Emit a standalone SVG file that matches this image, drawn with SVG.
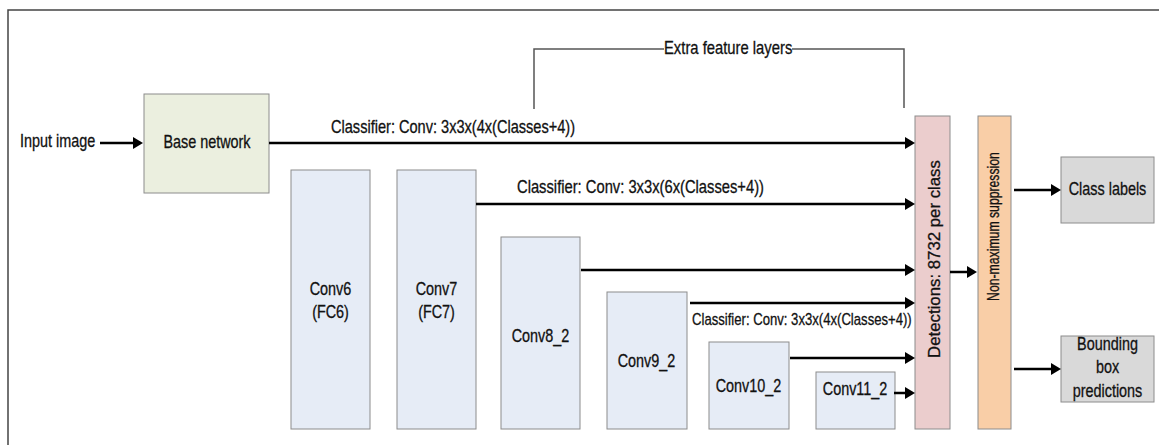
<svg xmlns="http://www.w3.org/2000/svg" width="1159" height="445" viewBox="0 0 1159 445">
<style>
.t{font-family:"Liberation Sans",Arial,sans-serif;fill:#111;font-size:18px;stroke:#111;stroke-width:0.3px}
.m{text-anchor:middle}
.box{stroke:#8c8c8c;stroke-width:1}
.conv{fill:#e6ecf6}
.ln{stroke:#000;stroke-width:2.5;fill:none}
.br{stroke:#555;stroke-width:1.5;fill:none}
</style>
<defs>
<marker id="ah" viewBox="0 0 10 12" refX="6" refY="6" markerWidth="10" markerHeight="12" markerUnits="userSpaceOnUse" orient="auto">
<path d="M0,0 L10,6 L0,12 z" fill="#000"/>
</marker>
</defs>
<rect width="1159" height="445" fill="#fff"/>
<path d="M8,445 V10 H1159" stroke="#444" stroke-width="1.5" fill="none"/>

<g id="input">
<text class="t" transform="translate(20,147) scale(0.8,1)">Input image</text>
</g>
<g id="base">
<rect class="box" x="144" y="94" width="125" height="99" fill="#ebefdf"/>
<text class="t m" transform="translate(207,148) scale(0.8,1)">Base network</text>
</g>
<g id="conv6">
<rect class="box conv" x="291" y="170" width="79" height="259"/>
<text class="t m" transform="translate(330.5,295) scale(0.8,1)">Conv6</text>
<text class="t m" transform="translate(330.5,318) scale(0.8,1)">(FC6)</text>
</g>
<g id="conv7">
<rect class="box conv" x="397" y="170" width="79" height="259"/>
<text class="t m" transform="translate(436.5,295) scale(0.8,1)">Conv7</text>
<text class="t m" transform="translate(436.5,318) scale(0.8,1)">(FC7)</text>
</g>
<g id="conv8">
<rect class="box conv" x="501" y="237" width="79" height="192"/>
<text class="t m" transform="translate(540.5,342) scale(0.8,1)">Conv8_2</text>
</g>
<g id="conv9">
<rect class="box conv" x="607" y="292" width="80" height="137"/>
<text class="t m" transform="translate(646.5,367) scale(0.8,1)">Conv9_2</text>
</g>
<g id="conv10">
<rect class="box conv" x="709" y="342" width="80" height="87"/>
<text class="t m" transform="translate(748.5,392) scale(0.8,1)">Conv10_2</text>
</g>
<g id="conv11">
<rect class="box conv" x="816" y="372" width="79" height="57"/>
<text class="t m" transform="translate(855,395) scale(0.8,1)">Conv11_2</text>
</g>
<g id="detections">
<rect class="box" x="915" y="116" width="35" height="313" fill="#ebcdcd"/>
<text class="t m" transform="translate(940,259) rotate(-90)" style="font-size:16.8px">Detections: 8732 per class</text>
</g>
<g id="nms">
<rect class="box" x="978" y="116" width="33" height="313" fill="#f9cea7"/>
<text class="t m" transform="translate(999,226.5) rotate(-90) scale(0.72,1)" style="font-size:17px">Non-maximum suppression</text>
</g>
<g id="classlabels">
<rect class="box" x="1061" y="157" width="93" height="66" fill="#d9d9d9"/>
<text class="t m" transform="translate(1107.5,195) scale(0.8,1)">Class labels</text>
</g>
<g id="bbox">
<rect class="box" x="1061" y="336" width="93" height="66" fill="#d9d9d9"/>
<text class="t m" transform="translate(1107.5,350) scale(0.8,1)">Bounding</text>
<text class="t m" transform="translate(1107.5,373) scale(0.8,1)">box</text>
<text class="t m" transform="translate(1107.5,397) scale(0.8,1)">predictions</text>
</g>

<g id="connectors">
<line class="ln" x1="100" y1="143" x2="139" y2="143" stroke-width="2" marker-end="url(#ah)"/>
<line class="ln" x1="269" y1="143" x2="911" y2="143" marker-end="url(#ah)"/>
<line class="ln" x1="476" y1="204" x2="911" y2="204" marker-end="url(#ah)"/>
<line class="ln" x1="581" y1="270" x2="911" y2="270" marker-end="url(#ah)"/>
<line class="ln" x1="690" y1="303" x2="911" y2="303" marker-end="url(#ah)"/>
<line class="ln" x1="790" y1="358" x2="911" y2="358" marker-end="url(#ah)"/>
<line class="ln" x1="894" y1="393" x2="911" y2="393" marker-end="url(#ah)"/>
<line class="ln" x1="950" y1="272" x2="973" y2="272" marker-end="url(#ah)"/>
<line class="ln" x1="1014" y1="190" x2="1057" y2="190" marker-end="url(#ah)"/>
<line class="ln" x1="1014" y1="369" x2="1057" y2="369" marker-end="url(#ah)"/>
<path class="br" d="M534,109 V49 H664 M792,49 H904 V108"/>
<text class="t" transform="translate(331,133) scale(0.81,1)">Classifier: Conv: 3x3x(4x(Classes+4))</text>
<text class="t" transform="translate(517,193) scale(0.82,1)">Classifier: Conv: 3x3x(6x(Classes+4))</text>
<text class="t" transform="translate(692,325) scale(0.8,1)" style="font-size:16.4px">Classifier: Conv: 3x3x(4x(Classes+4))</text>
<text class="t" transform="translate(664,54) scale(0.8,1)" style="font-size:18.5px">Extra feature layers</text>
</g>
</svg>
